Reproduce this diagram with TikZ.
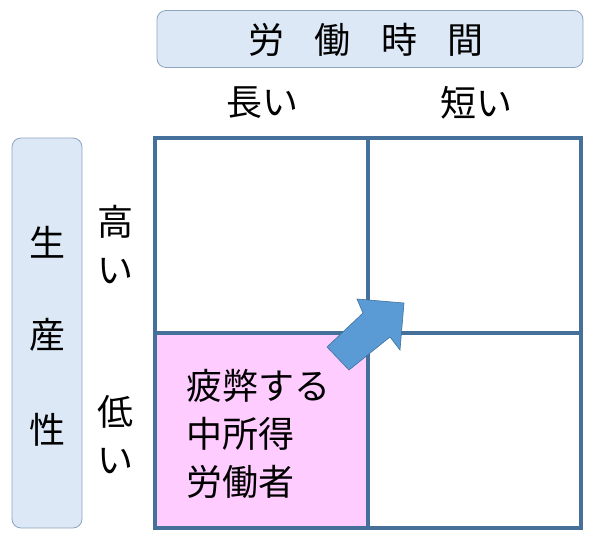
\documentclass[tikz,border=0pt]{standalone}
\usepackage{fontspec}
\setmainfont{Noto Sans CJK JP}
\usepackage{xcolor}
\definecolor{gridBlue}{HTML}{45709A}
\definecolor{headBg}{HTML}{DCE8F5}
\definecolor{headLine}{HTML}{8FA5BF}
\definecolor{cellPink}{HTML}{FFCCFF}
\definecolor{arrowFill}{HTML}{5B9BD5}
\definecolor{arrowLine}{HTML}{41719C}
\usetikzlibrary{positioning}
\newcommand{\Gros}{\fontsize{36}{48}\selectfont}
\tikzset{
  %% ── Headers ──────────────────────────────────────────────────────────
  entete/.style   = {draw=headLine, line width=0.8pt, rounded corners=9pt,
                     fill=headBg, inner sep=0pt},
  %% ── Grid cells ───────────────────────────────────────────────────────
  case/.style     = {draw=gridBlue, line width=4pt, fill=white,
                     minimum width=213pt, minimum height=195pt,
                     inner sep=0pt, outer sep=0pt},
  caseRose/.style = {case, fill=cellPink},
  %% ── Text ─────────────────────────────────────────────────────────────
  libelle/.style  = {font=\Gros, inner sep=0pt, text=black},
}

\begin{document}
\begin{tikzpicture}[x=1pt, y=-1pt]
\useasboundingbox (0, 0) rectangle (600, 536);

% headers
\node[entete, minimum width=426pt, minimum height=57pt] (hTemps) at (370, 39) {};
\node[libelle] (tTemps) at (366, 40)
     {労\hspace{0.85em}働\hspace{0.85em}時\hspace{0.85em}間};
\node[entete, minimum width=70pt, minimum height=390pt] (hProd) at (47, 333) {};
\foreach \c/\y in {生/242, 産/335, 性/430}
  \node[libelle] (tProd\y) at (47, \y) {\c};

% column and row labels
\node[libelle] (lLong)  at (262, 103) {長い};
\node[libelle] (lCourt) at (476, 103) {短い};
\node[libelle, align=center] (lHaut) at (115, 245) {高\\い};
\node[libelle, align=center] (lBas)  at (115, 435) {低\\い};

% grid
\node[case]     (c11) at (261.5, 235.5) {};
\node[case]     (c12) at (474.5, 235.5) {};
\node[case]     (c22) at (474.5, 430.5) {};
\node[caseRose] (c21) at (261.5, 430.5) {};
\node[libelle, align=left] (tFatigue) at (258, 434)
     {疲弊する\\中所得\\労働者};

% block arrow
\draw[fill=arrowFill, draw=arrowLine, line width=0.6pt, line join=miter]
     (327, 347) -- (363, 313) -- (357, 299) -- (404, 303)
     -- (400, 350) -- (390, 337) -- (349, 370) -- cycle;

\end{tikzpicture}
\end{document}
